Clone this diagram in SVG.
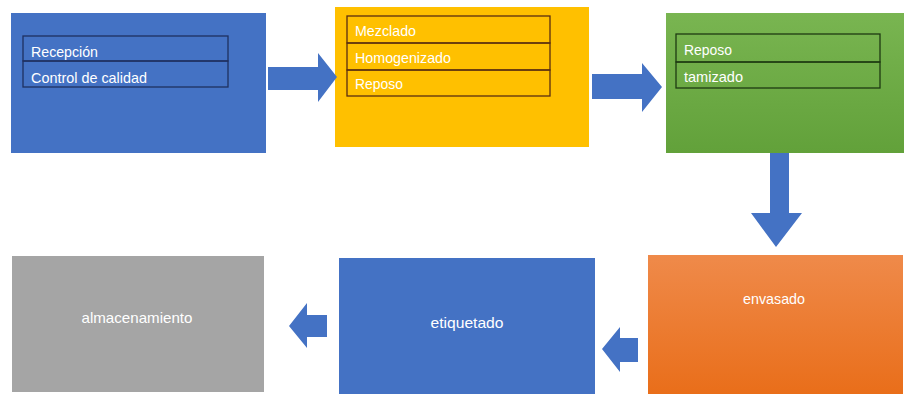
<svg xmlns="http://www.w3.org/2000/svg" width="909" height="394" viewBox="0 0 909 394">
<defs>
<linearGradient id="gGreen" x1="0" y1="0" x2="0" y2="1"><stop offset="0" stop-color="#79B551"/><stop offset="1" stop-color="#62A13A"/></linearGradient>
<linearGradient id="gOrange" x1="0" y1="0" x2="0" y2="1"><stop offset="0" stop-color="#EF8A4A"/><stop offset="1" stop-color="#E96E1A"/></linearGradient>
<style>
text{font-family:"Liberation Sans Narrow","Liberation Sans",Arial,sans-serif;font-size:14.5px;fill:#FFFFFF}
.c{text-anchor:middle}
.arrow{fill:#4472C4}
.row{fill:none;stroke-width:1.3}
</style>
</defs>
<rect width="909" height="394" fill="#FFFFFF"/>
<g id="node-recepcion">
<rect x="11" y="13" width="255" height="140" fill="#4472C4"/>
<rect class="row" x="23" y="36" width="205" height="25" stroke="#1F3060"/>
<rect class="row" x="23" y="61" width="205" height="26" stroke="#1F3060"/>
<text x="31" y="57" textLength="67" lengthAdjust="spacingAndGlyphs">Recepción</text>
<text x="31" y="83" textLength="116" lengthAdjust="spacingAndGlyphs">Control de calidad</text>
</g>
<g id="node-mezclado">
<rect x="335" y="7" width="254" height="140" fill="#FFC000"/>
<rect class="row" x="347" y="16" width="203" height="27" stroke="#5A2E10"/>
<rect class="row" x="347" y="43" width="203" height="27" stroke="#5A2E10"/>
<rect class="row" x="347" y="70" width="203" height="26" stroke="#5A2E10"/>
<text x="355" y="36" fill="#FFF3D0" textLength="61" lengthAdjust="spacingAndGlyphs">Mezclado</text>
<text x="355" y="63" fill="#FFF3D0" textLength="96" lengthAdjust="spacingAndGlyphs">Homogenizado</text>
<text x="355" y="89" fill="#FFF3D0" textLength="48" lengthAdjust="spacingAndGlyphs">Reposo</text>
</g>
<g id="node-reposo">
<rect x="666" y="13" width="238" height="140" fill="url(#gGreen)"/>
<rect class="row" x="676" y="34" width="204" height="28" stroke="#1E3A12"/>
<rect class="row" x="676" y="62" width="204" height="26" stroke="#1E3A12"/>
<text x="684" y="55" textLength="48" lengthAdjust="spacingAndGlyphs">Reposo</text>
<text x="684" y="82" textLength="59" lengthAdjust="spacingAndGlyphs">tamizado</text>
</g>
<g id="node-envasado">
<rect x="648" y="255" width="255" height="139" fill="url(#gOrange)"/>
<text class="c" x="774" y="304" textLength="62" lengthAdjust="spacingAndGlyphs">envasado</text>
</g>
<g id="node-etiquetado">
<rect x="339" y="258" width="256" height="136" fill="#4472C4"/>
<text class="c" x="467" y="328" textLength="73" lengthAdjust="spacingAndGlyphs">etiquetado</text>
</g>
<g id="node-almacenamiento">
<rect x="12" y="256" width="252" height="136" fill="#A5A5A5"/>
<text class="c" x="137" y="323" textLength="111" lengthAdjust="spacingAndGlyphs">almacenamiento</text>
</g>
<g id="connectors">
<polygon class="arrow" points="268,67 318,67 318,53 337,77 318,102 318,90 268,90"/>
<polygon class="arrow" points="592,74 642,74 642,63 662,87 642,112 642,99 592,99"/>
<polygon class="arrow" points="770,153 789,153 789,213 802,213 776,247 751,213 770,213"/>
<polygon class="arrow" points="638,338 620,338 620,327 602,349 620,372 620,362 638,362"/>
<polygon class="arrow" points="327,315 307,315 307,303 289,326 307,348 307,337 327,337"/>
</g>
</svg>
